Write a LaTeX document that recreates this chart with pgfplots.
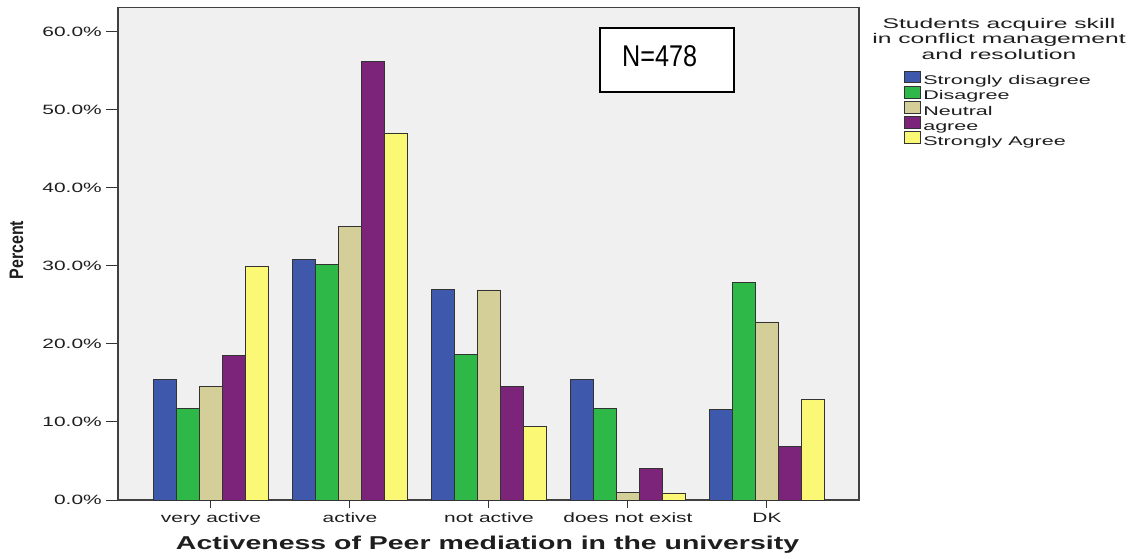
\documentclass[border=0pt]{standalone}
\usepackage{fontspec}
\setmainfont{Liberation Sans}
\usepackage{pgfplots}
\pgfplotsset{compat=1.18}
\newfontfamily\tickfont{Liberation Sans}[FakeStretch=1.55]
\newfontfamily\legfont{Liberation Sans}[FakeStretch=1.71]
\newfontfamily\titfont{Liberation Sans}[FakeStretch=1.76]
\newfontfamily\xlabfont{Liberation Sans}[FakeStretch=1.53]
\newfontfamily\ylabfont{Liberation Sans}[FakeStretch=0.82]
\newfontfamily\nfont{Liberation Sans}[FakeStretch=0.84]
\definecolor{cBlue}{RGB}{62,88,172}
\definecolor{cGreen}{RGB}{46,184,72}
\definecolor{cTan}{RGB}{212,206,152}
\definecolor{cPurple}{RGB}{124,36,122}
\definecolor{cYellow}{RGB}{250,248,116}
\definecolor{bgc}{RGB}{240,240,240}
\definecolor{txt}{RGB}{30,30,30}
\begin{document}
\begin{tikzpicture}
\useasboundingbox (0pt,0pt) rectangle (1136pt,558pt);
\begin{axis}[
  at={(118pt,58pt)}, anchor=south west,
  width=741pt, height=492.5pt, scale only axis,
  xmin=-0.669, xmax=4.662, ymin=0, ymax=63.06,
  ybar=0pt, bar width=0.1647,
  clip=false,
  axis background/.style={fill=bgc},
  axis line style={draw=black!75, line width=1.6pt},
  tick align=outside, major tick length=12pt,
  xtick style={/pgfplots/major tick length=8pt},
  xtick pos=bottom, ytick pos=left,
  tick style={black!80, line width=1pt},
  xtick={0,1,2,3,4},
  xticklabels={very active, active, not active, does not exist, DK},
  ytick={0,10,20,30,40,50,60},
  yticklabel={\pgfmathprintnumber[fixed,fixed zerofill,precision=1]{\tick}\%},
  /pgf/number format/assume math mode=true,
  ticklabel style={font=\tickfont\fontsize{13.5}{16}\selectfont, text=txt},
  yticklabel style={anchor=east, inner sep=0pt, xshift=-4pt},
  xticklabel style={anchor=base, inner sep=0pt, yshift=-10.7pt},
  xlabel={\xlabfont\bfseries Activeness of Peer mediation in the university},
  xlabel style={at={(axis description cs:0.4987,-0.1001)}, anchor=base, inner sep=0pt,
    font=\fontsize{18.6}{20}\selectfont, text=txt},
  ylabel={\ylabfont\bfseries Percent},
  ylabel style={at={(axis description cs:-0.137,0.5076)}, anchor=center, rotate=0, inner sep=0pt,
    font=\fontsize{19.5}{21}\selectfont, text=txt},
  every axis plot/.append style={draw=black!80, line width=0.8pt},
  legend style={at={(axis description cs:1.0607,0.8717)}, anchor=north west,
    draw=none, fill=none, inner sep=0pt, outer sep=0pt,
    row sep=-1.6pt, column sep=2.5pt,
    font=\legfont\fontsize{12.6}{14}\selectfont, text=txt,
    nodes={inner sep=0pt, text height=9pt, text depth=2.7pt}},
  legend cell align=left,
  every axis plot post/.append style={
    legend image code/.code={\draw[##1, line width=0.8pt] (0pt,-1.2pt) rectangle (16pt,10.5pt);}},
]
\addplot[fill=cBlue]   coordinates {(0,15.4) (1,30.8) (2,27.0) (3,15.4) (4,11.6)};
\addplot[fill=cGreen]  coordinates {(0,11.7) (1,30.2) (2,18.6) (3,11.7) (4,27.9)};
\addplot[fill=cTan]    coordinates {(0,14.5) (1,35.0) (2,26.9) (3,1.0) (4,22.8)};
\addplot[fill=cPurple] coordinates {(0,18.5) (1,56.2) (2,14.5) (3,4.0) (4,6.9)};
\addplot[fill=cYellow] coordinates {(0,29.9) (1,47.0) (2,9.4) (3,0.9) (4,12.9)};
\legend{Strongly disagree, Disagree, Neutral, agree, Strongly Agree}
\node[draw=black, line width=1.2pt, fill=white, minimum width=134pt, minimum height=64pt, inner sep=0pt]
  at (axis description cs:0.7409,0.8934) {};
\node[anchor=base west, inner sep=0pt, font=\nfont\fontsize{30}{32}\selectfont, text=black]
  at (axis description cs:0.6802,0.8798) {N=478};
\node[anchor=base, inner sep=0pt, font=\titfont\fontsize{14}{16}\selectfont, text=txt]
  at (axis description cs:1.189,0.9578) {Students acquire skill};
\node[anchor=base, inner sep=0pt, font=\titfont\fontsize{14}{16}\selectfont, text=txt]
  at (axis description cs:1.189,0.9263) {in conflict management};
\node[anchor=base, inner sep=0pt, font=\titfont\fontsize{14}{16}\selectfont, text=txt]
  at (axis description cs:1.189,0.8948) {and resolution};
\end{axis}
\end{tikzpicture}
\end{document}
